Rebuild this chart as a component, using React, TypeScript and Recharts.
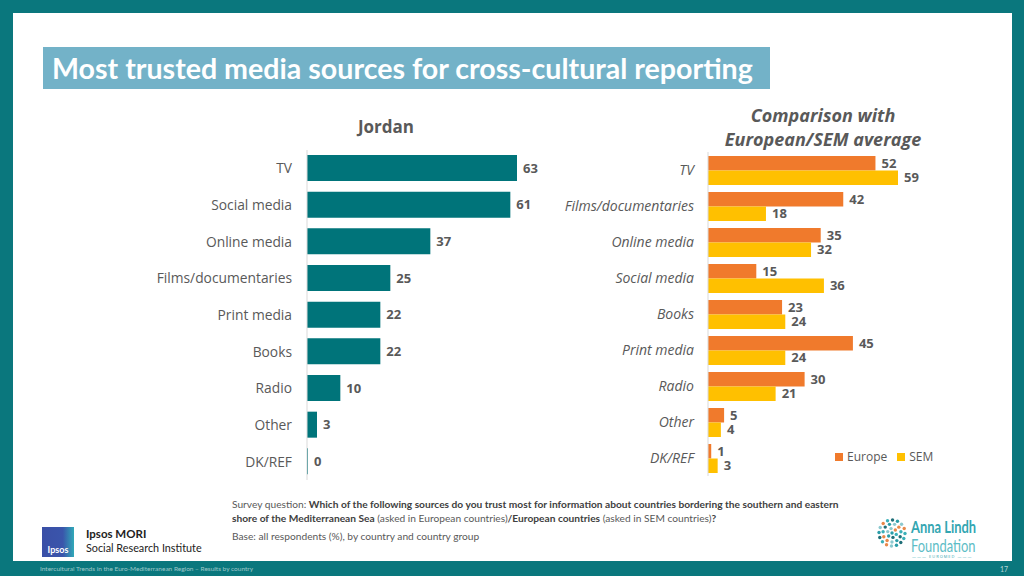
import React from 'react';
import { BarChart, Bar, XAxis, YAxis, LabelList, Legend } from 'recharts';

// Jordan
const jordanCategories = ['TV', 'Social media', 'Online media', 'Films/documentaries', 'Print media', 'Books', 'Radio', 'Other', 'DK/REF'];
const jordanValues = [63, 61, 37, 25, 22, 22, 10, 3, 0];

// European / SEM comparison
const compareCategories = ['TV', 'Films/documentaries', 'Online media', 'Social media', 'Books', 'Print media', 'Radio', 'Other', 'DK/REF'];
const europeValues = [52, 42, 35, 15, 23, 45, 30, 5, 1];
const semValues = [59, 18, 32, 36, 24, 24, 21, 4, 3];

const TEAL = '#00747a';
const ORANGE = '#f07a2c';
const YELLOW = '#ffc000';
const GREY = '#595959';
const FONT = '"Open Sans", "Noto Sans", sans-serif';

const jordanData = jordanCategories.map((name, i) => ({ name, value: jordanValues[i] }));
const compareData = compareCategories.map((name, i) => ({ name, europe: europeValues[i], sem: semValues[i] }));

const valueLabel = { fill: GREY, fontSize: 13, fontWeight: 700, fontFamily: FONT };

function JordanChart() {
  return (
    <BarChart
      layout="vertical"
      width={440}
      height={350}
      data={jordanData}
      margin={{ top: 10, right: 63, bottom: 10, left: 0 }}
    >
      <XAxis type="number" domain={[0, 63]} hide />
      <YAxis
        type="category"
        dataKey="name"
        width={167}
        tickSize={0}
        tickMargin={15}
        tickLine={false}
        axisLine={{ stroke: '#d9d9d9' }}
        tick={{ fill: GREY, fontSize: 13.8, fontFamily: FONT }}
        interval={0}
      />
      <Bar dataKey="value" fill={TEAL} barSize={26} minPointSize={1} isAnimationActive={false}>
        <LabelList dataKey="value" position="right" offset={6} style={valueLabel} />
      </Bar>
    </BarChart>
  );
}

function CompareChart() {
  return (
    <BarChart
      layout="vertical"
      width={400}
      height={344}
      data={compareData}
      margin={{ top: 10, right: 52, bottom: 10, left: 0 }}
      barGap={0}
    >
      <XAxis type="number" domain={[0, 59]} hide />
      <YAxis
        type="category"
        dataKey="name"
        width={158}
        tickSize={0}
        tickMargin={14}
        tickLine={false}
        axisLine={{ stroke: '#d9d9d9' }}
        tick={{ fill: GREY, fontSize: 14, fontFamily: FONT, fontStyle: 'italic' }}
        interval={0}
      />
      <Legend
        layout="horizontal"
        align="center"
        verticalAlign="middle"
        iconType="square"
        iconSize={8}
        wrapperStyle={{ left: 285, top: 306, width: 'auto', whiteSpace: 'nowrap', fontFamily: FONT, fontSize: 12 }}
        formatter={(v) => <span style={{ color: GREY }}>{v}</span>}
      />
      <Bar dataKey="europe" name="Europe" fill={ORANGE} barSize={14.5} isAnimationActive={false}>
        <LabelList dataKey="europe" position="right" offset={6} style={valueLabel} />
      </Bar>
      <Bar dataKey="sem" name="SEM" fill={YELLOW} barSize={14.5} isAnimationActive={false}>
        <LabelList dataKey="sem" position="right" offset={6} style={valueLabel} />
      </Bar>
    </BarChart>
  );
}

function AnnaLindhDots() {
  const dots: { x: number; y: number; c: string }[] = [];
  const colors = ['#2a9da8', '#e8894a', '#1f6f78', '#8cc9cf', '#3bb0b8'];
  const rings = [
    { r: 0, n: 1 },
    { r: 4.5, n: 6 },
    { r: 9, n: 11 },
    { r: 13, n: 16 },
  ];
  let k = 0;
  rings.forEach(({ r, n }) => {
    for (let i = 0; i < n; i++) {
      const a = (i / n) * Math.PI * 2 + r;
      dots.push({ x: 15 + r * Math.cos(a), y: 15 + r * Math.sin(a), c: colors[k % colors.length] });
      k += 3;
    }
  });
  return (
    <svg width={30} height={30} style={{ position: 'absolute', left: 877, top: 518 }}>
      {dots.map((d, i) => (
        <circle key={i} cx={d.x} cy={d.y} r={1.7} fill={d.c} />
      ))}
    </svg>
  );
}

export default function App() {
  const abs = (s: React.CSSProperties): React.CSSProperties => ({ position: 'absolute', ...s });
  return (
    <div style={abs({ left: 0, top: 0, width: 1024, height: 576, background: '#0a777d', overflow: 'hidden', fontFamily: FONT })}>
      <div style={abs({ left: 13, top: 13, width: 999, height: 548, background: '#ffffff' })} />

      <div
        style={abs({
          left: 43,
          top: 47,
          width: 727,
          height: 42,
          background: '#73b2c8',
          color: '#ffffff',
          fontFamily: 'Lato, sans-serif',
          fontWeight: 700,
          fontSize: 28.6,
          lineHeight: '42px',
          paddingLeft: 9,
          boxSizing: 'border-box',
          whiteSpace: 'nowrap',
        })}
      >
        Most trusted media sources for cross-cultural reporting
      </div>

      <div style={abs({ left: 286, top: 114, width: 200, textAlign: 'center', color: GREY, fontWeight: 700, fontSize: 17, lineHeight: '26px' })}>
        Jordan
      </div>

      <div
        style={abs({
          left: 673,
          top: 103,
          width: 300,
          textAlign: 'center',
          color: GREY,
          fontWeight: 700,
          fontStyle: 'italic',
          fontSize: 18,
          lineHeight: '24px',
        })}
      >
        Comparison with
        <br />
        European/SEM average
      </div>

      <div style={abs({ left: 140, top: 140 })}>
        <JordanChart />
      </div>
      <div style={abs({ left: 550, top: 141.5 })}>
        <CompareChart />
      </div>

      <div
        style={abs({
          left: 232,
          top: 497,
          fontFamily: 'Lato, sans-serif',
          fontSize: 10.2,
          lineHeight: '14px',
          color: GREY,
          whiteSpace: 'nowrap',
        })}
      >
        Survey question: <b style={{ color: '#404040' }}>Which of the following sources do you trust most for information about countries bordering the southern and eastern</b>
        <br />
        <b style={{ color: '#404040' }}>shore of the Mediterranean Sea</b> (asked in European countries)<b style={{ color: '#404040' }}>/European countries</b> (asked in SEM countries)<b style={{ color: '#404040' }}>?</b>
      </div>
      <div style={abs({ left: 232, top: 529, fontFamily: 'Lato, sans-serif', fontSize: 10.2, lineHeight: '14px', color: GREY, whiteSpace: 'nowrap' })}>
        Base: all respondents (%), by country and country group
      </div>

      <div
        style={abs({
          left: 42,
          top: 527,
          width: 32,
          height: 30,
          background: 'linear-gradient(90deg, #3a4fa6 0%, #3a55ab 65%, #30a9b8 100%)',
          color: '#ffffff',
          fontFamily: 'Lato, sans-serif',
          fontWeight: 700,
          fontSize: 9,
          textAlign: 'center',
          lineHeight: '10px',
          paddingTop: 18,
          boxSizing: 'border-box',
        })}
      >
        Ipsos
      </div>
      <div style={abs({ left: 86, top: 527, fontFamily: 'Lato, sans-serif', fontSize: 10.8, lineHeight: '14px', color: '#222222', whiteSpace: 'nowrap' })}>
        <span style={{ fontWeight: 700, fontSize: 11.5 }}>Ipsos MORI</span>
        <br />
        Social Research Institute
      </div>

      <AnnaLindhDots />
      <div
        style={abs({
          left: 911,
          top: 517,
          fontFamily: 'Lato, sans-serif',
          fontSize: 17,
          lineHeight: '19px',
          color: '#33a6b2',
          whiteSpace: 'nowrap',
          transform: 'scaleX(0.76)',
          transformOrigin: 'left top',
        })}
      >
        <span style={{ fontWeight: 700 }}>Anna Lindh</span>
        <br />
        <span style={{ color: '#5dbdc6' }}>Foundation</span>
      </div>
      <div style={abs({ left: 912, top: 554, fontSize: 4, color: '#33a6b2', letterSpacing: 1, whiteSpace: 'nowrap' })}>
        ——— EUROMED ———
      </div>

      <div style={abs({ left: 40, top: 564, fontFamily: 'Lato, sans-serif', fontSize: 6.5, lineHeight: '10px', color: 'rgba(255,255,255,0.6)', whiteSpace: 'nowrap' })}>
        Intercultural Trends in the Euro-Mediterranean Region – Results by country
      </div>
      <div style={abs({ left: 1000, top: 564, fontFamily: 'Lato, sans-serif', fontSize: 7, lineHeight: '10px', color: 'rgba(255,255,255,0.7)' })}>
        17
      </div>
    </div>
  );
}
